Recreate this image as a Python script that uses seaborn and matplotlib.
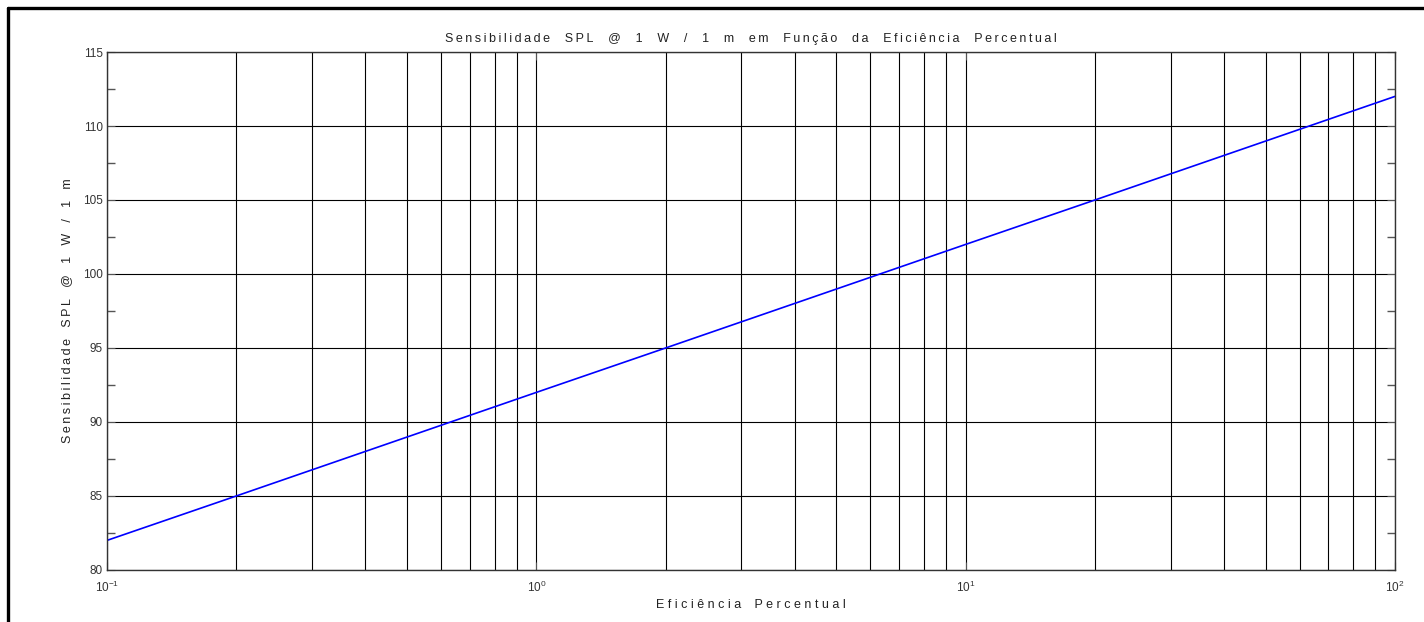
import matplotlib
matplotlib.use("Agg")
import matplotlib.pyplot as plt
from matplotlib.lines import Line2D
from matplotlib.ticker import LogLocator, MultipleLocator
import seaborn as sns
import pandas as pd

# Efficiency (%) and the matching SPL sensitivity @ 1 W / 1 m (dB)
eficiencia = [0.1, 0.2, 1, 2, 10, 20, 100]
sensibilidade = [82, 85, 92, 95, 102, 105, 112]

titulo = "Sensibilidade SPL @ 1 W / 1 m em Função da Eficiência Percentual"
rotulo_x = "Eficiência Percentual"
rotulo_y = "Sensibilidade SPL @ 1 W / 1 m"

sns.set_style("white")
plt.rcParams["font.family"] = ["Liberation Sans", "DejaVu Sans"]


def espacado(texto, entre_letras="\u2009", entre_palavras="\u2009\u2002\u2009"):
    # wide letter spacing in the style of the original plotting tool
    palavras = texto.split(" ")
    return entre_palavras.join(entre_letras.join(p) for p in palavras)


df = pd.DataFrame({"eficiencia": eficiencia, "sensibilidade": sensibilidade})

fig = plt.figure(figsize=(14.24, 6.22), dpi=100)
ax = fig.add_axes([107 / 1424, 1 - 570 / 622, (1395 - 107) / 1424, (570 - 52) / 622])

sns.lineplot(data=df, x="eficiencia", y="sensibilidade", ax=ax,
             color="#0000ff", linewidth=1.2)

ax.set_xscale("log")
ax.set_xlim(0.1, 100)
ax.set_ylim(80, 115)

ax.xaxis.set_major_locator(LogLocator(base=10, numticks=10))
ax.xaxis.set_minor_locator(LogLocator(base=10, subs=range(2, 10), numticks=20))
ax.yaxis.set_major_locator(MultipleLocator(5))
ax.yaxis.set_minor_locator(MultipleLocator(2.5))

ax.grid(True, which="major", axis="both", color="black", linewidth=0.8)
ax.grid(True, which="minor", axis="x", color="black", linewidth=0.8)

ax.tick_params(axis="both", which="both", direction="in",
               left=True, right=True, bottom=True, top=True,
               labelsize=8.5, labelcolor="#333333", color="#555555")
ax.tick_params(axis="y", which="minor", length=6, width=1)
ax.tick_params(axis="x", which="minor", length=0)
ax.tick_params(axis="both", which="major", length=6, pad=3)
ax.tick_params(axis="x", which="major", pad=7)

for s in ax.spines.values():
    s.set_visible(True)
    s.set_color("#333333")
    s.set_linewidth(1.0)

ax.set_title(espacado(titulo, entre_palavras="\u2009\u2002\u2009\u2009\u200a"),
             fontsize=9, color="#222222", pad=7)
ax.set_xlabel(espacado(rotulo_x, entre_letras=" ", entre_palavras=" \u2002 "),
              fontsize=9, color="#222222", labelpad=3)
ax.set_ylabel(espacado(rotulo_y), fontsize=9, color="#222222", labelpad=7)

# frame lines along the left and top edges of the window
fig.add_artist(Line2D([8 / 1424, 8 / 1424], [0, 1 - 8 / 622],
                      transform=fig.transFigure, color="black", linewidth=2.4))
fig.add_artist(Line2D([8 / 1424, 1], [1 - 8 / 622, 1 - 8 / 622],
                      transform=fig.transFigure, color="black", linewidth=2.4))

fig.savefig("out.png", dpi=100, facecolor="white")
